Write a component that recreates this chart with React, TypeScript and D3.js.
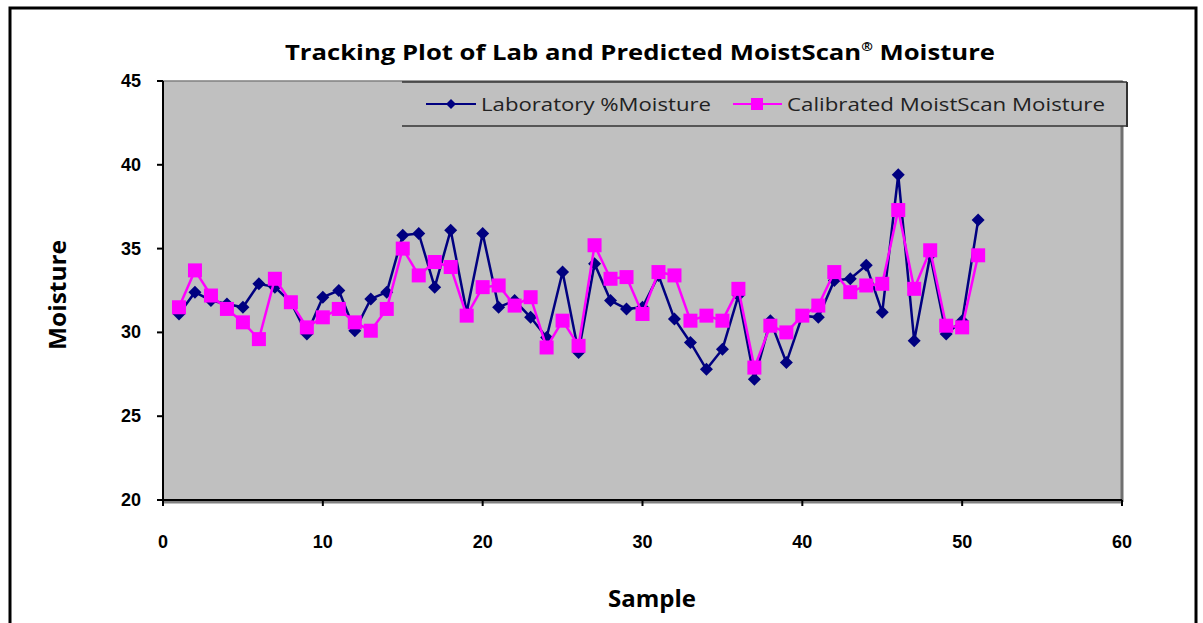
import * as d3 from "d3";

const samples = d3.range(1, 52);

const labMoisture = [
  31.1, 32.4, 31.9, 31.7, 31.5, 32.9, 32.7, 31.8, 29.9, 32.1,
  32.5, 30.1, 32.0, 32.4, 35.8, 35.9, 32.7, 36.1, 31.2, 35.9,
  31.5, 31.9, 30.9, 29.7, 33.6, 28.8, 34.1, 31.9, 31.4, 31.5,
  33.4, 30.8, 29.4, 27.8, 29.0, 32.2, 27.2, 30.7, 28.2, 31.0,
  30.9, 33.1, 33.2, 34.0, 31.2, 39.4, 29.5, 34.6, 29.9, 30.7,
  36.7,
];

const calibrated = [
  31.5, 33.7, 32.2, 31.4, 30.6, 29.6, 33.2, 31.8, 30.3, 30.9,
  31.4, 30.6, 30.1, 31.4, 35.0, 33.4, 34.2, 33.9, 31.0, 32.7,
  32.8, 31.6, 32.1, 29.1, 30.7, 29.2, 35.2, 33.2, 33.3, 31.1,
  33.6, 33.4, 30.7, 31.0, 30.7, 32.6, 27.9, 30.4, 30.0, 31.0,
  31.6, 33.6, 32.4, 32.8, 32.9, 37.3, 32.6, 34.9, 30.4, 30.3,
  34.6,
];

const xTicks = [0, 10, 20, 30, 40, 50, 60];
const yTicks = [20, 25, 30, 35, 40, 45];

const W = 1203;
const H = 623;
const plot = { left: 163, right: 1122, top: 81, bottom: 500 };

const x = d3.scaleLinear().domain([0, 60]).range([plot.left, plot.right]);
const y = d3.scaleLinear().domain([20, 45]).range([plot.bottom, plot.top]);

const line = d3
  .line<number>()
  .x((_, i) => x(samples[i]))
  .y((d) => y(d));

const NAVY = "#000080";
const PINK = "#FF00FF";
const tickFont = "'Liberation Sans', Arial, sans-serif";
const titleFont = "'Open Sans', 'Noto Sans', sans-serif";

function Diamond({ cx, cy, r }: { cx: number; cy: number; r: number }) {
  return (
    <path
      d={`M${cx},${cy - r}L${cx + r},${cy}L${cx},${cy + r}L${cx - r},${cy}Z`}
      fill={NAVY}
    />
  );
}

export default function App() {
  return (
    <svg
      width={W}
      height={H}
      style={{ position: "absolute", left: 0, top: 0, background: "#fff" }}
    >
      {/* chart frame */}
      <rect x={10} y={8} width={1186} height={H + 10} fill="#fff" stroke="#000" strokeWidth={3} />

      <text
        x={640}
        y={60}
        textAnchor="middle"
        fontFamily={titleFont}
        fontWeight={700}
        fontSize={22}
        textLength={710}
        lengthAdjust="spacingAndGlyphs"
      >
        Tracking Plot of Lab and Predicted MoistScan
        <tspan fontSize={12} dy={-9}>®</tspan>
        <tspan dy={9}> Moisture</tspan>
      </text>

      {/* plot area */}
      <rect
        x={plot.left}
        y={plot.top}
        width={plot.right - plot.left}
        height={plot.bottom - plot.top}
        fill="#C0C0C0"
        stroke="#808080"
        strokeWidth={1.5}
      />
      <line x1={plot.right} x2={plot.right} y1={plot.top} y2={plot.bottom + 2} stroke="#707070" strokeWidth={3} />
      <line x1={plot.left} x2={plot.right + 1} y1={plot.bottom + 2} y2={plot.bottom + 2} stroke="#808080" strokeWidth={3} />

      {/* y axis */}
      <line x1={plot.left} x2={plot.left} y1={plot.top} y2={plot.bottom} stroke="#000" strokeWidth={2} />
      {yTicks.map((t) => (
        <g key={t}>
          <line x1={plot.left - 6} x2={plot.left} y1={y(t)} y2={y(t)} stroke="#000" strokeWidth={2} />
          <text
            x={141}
            y={y(t) + 6}
            textAnchor="end"
            fontFamily={tickFont}
            fontWeight={700}
            fontSize={18}
          >
            {t}
          </text>
        </g>
      ))}

      {/* x axis */}
      <line x1={plot.left} x2={plot.right} y1={plot.bottom} y2={plot.bottom} stroke="#000" strokeWidth={2} />
      {xTicks.map((t) => (
        <g key={t}>
          <line x1={x(t)} x2={x(t)} y1={plot.bottom} y2={plot.bottom + 6} stroke="#000" strokeWidth={2} />
          <text
            x={x(t)}
            y={548}
            textAnchor="middle"
            fontFamily={tickFont}
            fontWeight={700}
            fontSize={18}
          >
            {t}
          </text>
        </g>
      ))}

      <text x={652} y={607} textAnchor="middle" fontFamily={titleFont} fontWeight={700} fontSize={23}
        textLength={88} lengthAdjust="spacingAndGlyphs">
        Sample
      </text>
      <text
        transform="translate(66,295) rotate(-90)"
        textAnchor="middle"
        fontFamily={titleFont}
        fontWeight={700}
        fontSize={23}
        textLength={110}
        lengthAdjust="spacingAndGlyphs"
      >
        Moisture
      </text>

      {/* series */}
      <path d={line(labMoisture) ?? ""} fill="none" stroke={NAVY} strokeWidth={2.5} />
      {labMoisture.map((v, i) => (
        <Diamond key={i} cx={x(samples[i])} cy={y(v)} r={6.5} />
      ))}
      <path d={line(calibrated) ?? ""} fill="none" stroke={PINK} strokeWidth={2.5} />
      {calibrated.map((v, i) => (
        <rect key={i} x={x(samples[i]) - 7} y={y(v) - 7} width={14} height={14} fill={PINK} />
      ))}

      {/* legend */}
      <rect x={402} y={82} width={725} height={44} fill="#C0C0C0" />
      <line x1={402} x2={1127} y1={82} y2={82} stroke="#333" strokeWidth={1.5} />
      <line x1={402} x2={1127} y1={126} y2={126} stroke="#333" strokeWidth={1.5} />
      <line x1={1127} x2={1127} y1={82} y2={127} stroke="#333" strokeWidth={2} />
      <line x1={426} x2={476} y1={104} y2={104} stroke={NAVY} strokeWidth={2} />
      <Diamond cx={451} cy={104} r={5} />
      <text x={481} y={111} fontFamily={titleFont} fontSize={19} fill="#222" textLength={230} lengthAdjust="spacingAndGlyphs">
        Laboratory %Moisture
      </text>
      <line x1={733} x2={782} y1={104} y2={104} stroke={PINK} strokeWidth={2} />
      <rect x={751} y={98} width={12} height={12} fill={PINK} />
      <text x={787} y={111} fontFamily={titleFont} fontSize={19} fill="#222" textLength={318} lengthAdjust="spacingAndGlyphs">
        Calibrated MoistScan Moisture
      </text>
    </svg>
  );
}
